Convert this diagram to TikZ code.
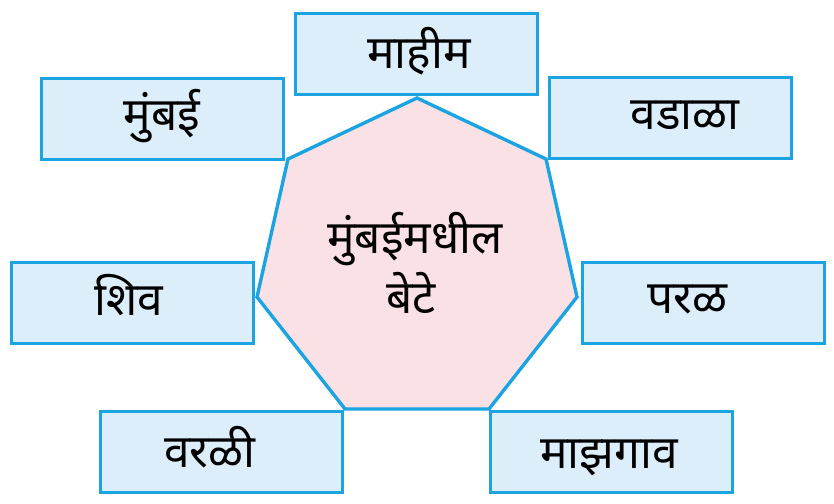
\documentclass[tikz,border=0pt]{standalone}
\usepackage{fontspec}
\newfontfamily\deva[Script=Devanagari]{Noto Sans}
\definecolor{edge}{HTML}{1CA3E2}
\definecolor{boxfill}{HTML}{DDEEFB}
\definecolor{polyfill}{HTML}{FAE1E6}
\tikzset{
  island/.style={draw=edge, line width=3.4pt, fill=boxfill, minimum width=242pt, minimum height=81pt, inner sep=0pt, anchor=north west},
  word/.style={font=\deva\fontsize{46}{52}\selectfont, anchor=base, inner sep=0pt},
}
\begin{document}
\begin{tikzpicture}[x=1pt,y=-1pt]
\useasboundingbox (0,0) rectangle (834,503);
% heptagon
\coordinate (p1) at (417,98);
\coordinate (p2) at (546,159);
\coordinate (p3) at (577,297);
\coordinate (p4) at (489,409);
\coordinate (p5) at (345,409);
\coordinate (p6) at (257,297);
\coordinate (p7) at (288,159);
\draw[draw=edge, line width=3.4pt, fill=polyfill, line join=miter] (p1) -- (p2) -- (p3) -- (p4) -- (p5) -- (p6) -- (p7) -- cycle;
% boxes
\node[island] (mahim) at (294,12) {};
\node[island] (mumbai) at (40,77) {};
\node[island] (wadala) at (548,76) {};
\node[island] (shiv) at (10,261) {};
\node[island] (paral) at (581,261) {};
\node[island] (worli) at (99,410) {};
\node[island] (mazgaon) at (489,410) {};
% texts
\node[word] (tmahim) at (419,68) {माहीम};
\node[word] (tmumbai) at (162,130) {मुंबई};
\node[word] (twadala) at (685,129) {वडाळा};
\node[word] (tshiv) at (129,315) {शिव};
\node[word] (tparal) at (687,313) {परळ};
\node[word] (tworli) at (210,467) {वरळी};
\node[word] (tmazgaon) at (609,468) {माझगाव};
\node[word] (tc1) at (415,253) {मुंबईमधील};
\node[word] (tc2) at (411,313) {बेटे};
\end{tikzpicture}
\end{document}
